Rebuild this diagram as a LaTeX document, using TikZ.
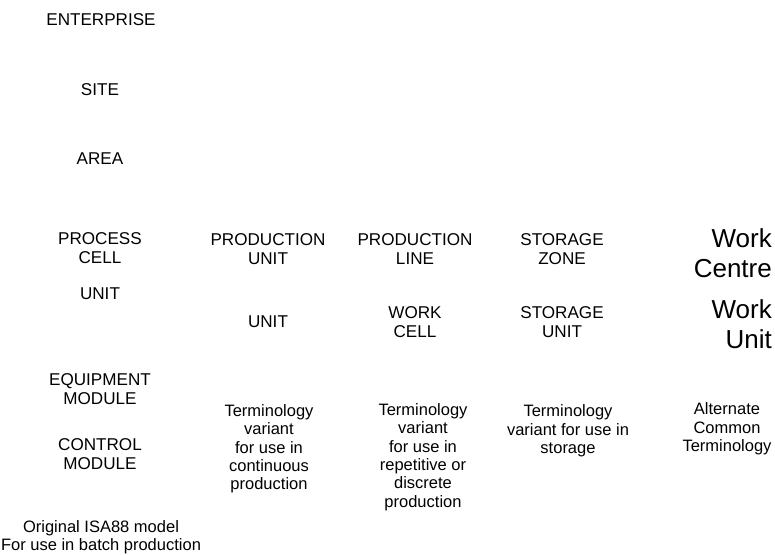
\documentclass[tikz,border=0pt]{standalone}
\usepackage{fontspec}
\setmainfont{Liberation Sans}
\begin{document}
\begin{tikzpicture}[x=1pt,y=-1pt,
  lbl/.style={inner sep=0pt,align=center,text=black,font=\fontsize{17.1}{19}\selectfont},
  note/.style={lbl,font=\fontsize{16.5}{18.3}\selectfont},
  big/.style={inner sep=0pt,align=right,anchor=east,text=black,font=\fontsize{26}{29.5}\selectfont}]
\useasboundingbox (0,0) rectangle (775,554);
% Original ISA88 hierarchy
\node[lbl] (ent) at (101,20) {ENTERPRISE};
\node[lbl] (site) at (100,90) {SITE};
\node[lbl] (area) at (100,159) {AREA};
\node[lbl] (pc) at (100,248) {PROCESS\\CELL};
\node[lbl] (unit) at (100,294) {UNIT};
\node[lbl] (em) at (100,389) {EQUIPMENT\\MODULE};
\node[lbl] (cm) at (100,454) {CONTROL\\MODULE};
\node[note] (isa) at (101,537) {Original ISA88 model\\For use in batch production};
% Continuous production
\node[lbl] (pu) at (268,249) {PRODUCTION\\UNIT};
\node[lbl] (unit2) at (268,322) {UNIT};
\node[note] (cont) at (269,449) {Terminology\\variant\\for use in\\continuous\\production};
% Repetitive / discrete production
\node[lbl] (pl) at (415,249) {PRODUCTION\\LINE};
\node[lbl] (wc) at (415,322) {WORK\\CELL};
\node[note] (disc) at (423,457) {Terminology\\variant\\for use in\\repetitive or\\discrete\\production};
% Storage
\node[lbl] (sz) at (562,249) {STORAGE\\ZONE};
\node[lbl] (su) at (562,322) {STORAGE\\UNIT};
\node[note] (stor) at (568,431) {Terminology\\variant for use in\\storage};
% Alternate common terminology
\node[big] (wcen) at (772,253) {Work\\Centre};
\node[big] (wu) at (772,324) {Work\\Unit};
\node[note] (alt) at (727,429) {Alternate\\Common\\Terminology};
\end{tikzpicture}
\end{document}
